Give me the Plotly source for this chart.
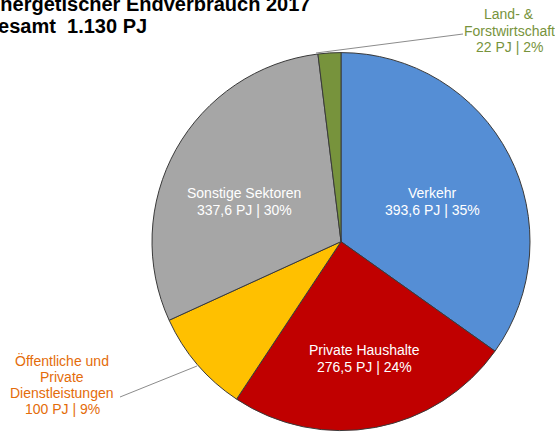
import plotly.graph_objects as go

# ---- data ----
sectors = ["Verkehr", "Private Haushalte", "Öffentliche und<br>Private<br>Dienstleistungen",
           "Sonstige Sektoren", "Land- &<br>Forstwirtschaft"]
values_pj = [393.6, 276.5, 100, 337.6, 22]
percent_labels = [35, 24, 9, 30, 2]
total_label = "1.130 PJ"
title_line1 = "Energetischer Endverbrauch 2017"
title_line2 = "Insgesamt  " + total_label

slice_colors = ["#558ED5", "#C00000", "#FFC000", "#A6A6A6", "#77933C"]
label_colors = ["white", "white", "#E46C0A", "white", "#77933C"]

W, H = 555, 433
FONT = "Liberation Sans, Arial, sans-serif"


def fmt(v):
    if float(v).is_integer():
        return f"{int(v)}"
    return f"{v:.1f}".replace(".", ",")


def px(x, y):
    return x / W, 1 - y / H


# pie geometry (pixels)
cx, cy, r = 341, 241.6, 189

fig = go.Figure(go.Pie(
    labels=sectors,
    values=values_pj,
    sort=False,
    direction="clockwise",
    rotation=0,
    textinfo="none",
    hoverinfo="label+value+percent",
    marker=dict(colors=slice_colors, line=dict(color="#3a3a3a", width=1)),
    domain=dict(x=[(cx - r) / W, (cx + r) / W], y=[(H - cy - r) / H, (H - cy + r) / H]),
    showlegend=False,
))

# label positions (pixels, centre of block) and line spacing for each sector
label_pos = [(432, 201.5, 17), (364, 358.5, 17), (62, 384.75, 16.4), (244, 201.5, 17), (509, 30.5, 16.5)]

annotations = []
for name, v, p, col, (lx, ly, sp) in zip(sectors, values_pj, percent_labels, label_colors, label_pos):
    lines = name.split("<br>") + [f"{fmt(v)} PJ | {p}%"]
    n = len(lines)
    for i, ln in enumerate(lines):
        x, y = px(lx, ly + (i - (n - 1) / 2) * sp)
        annotations.append(dict(
            x=x, y=y, xref="paper", yref="paper", xanchor="center", yanchor="middle",
            text=ln, showarrow=False, align="center",
            font=dict(family=FONT, size=14, color=col),
        ))

# title (partly outside the canvas, as in the reference)
for txt, (tx, ty) in [(title_line1, (-15, 3.5)), (title_line2, (-45, 26))]:
    x, y = px(tx, ty)
    annotations.append(dict(
        x=x, y=y, xref="paper", yref="paper", xanchor="left", yanchor="middle",
        text=txt, showarrow=False,
        font=dict(family=FONT, size=20, color="black", weight="bold"),
    ))

# leader lines
shapes = []
for (x0, y0), (x1, y1) in [((463, 34), (316, 53)), ((120, 397), (197, 366))]:
    a0, b0 = px(x0, y0)
    a1, b1 = px(x1, y1)
    shapes.append(dict(type="line", xref="paper", yref="paper", x0=a0, y0=b0, x1=a1, y1=b1,
                       line=dict(color="#8c8c8c", width=1)))

fig.update_layout(
    width=W, height=H,
    margin=dict(l=0, r=0, t=0, b=0),
    paper_bgcolor="white", plot_bgcolor="white",
    annotations=annotations, shapes=shapes,
    font=dict(family=FONT),
)

fig.write_html("out.html", config={"displayModeBar": False},
               post_script="document.body.style.margin='0';document.body.style.overflow='hidden';")
